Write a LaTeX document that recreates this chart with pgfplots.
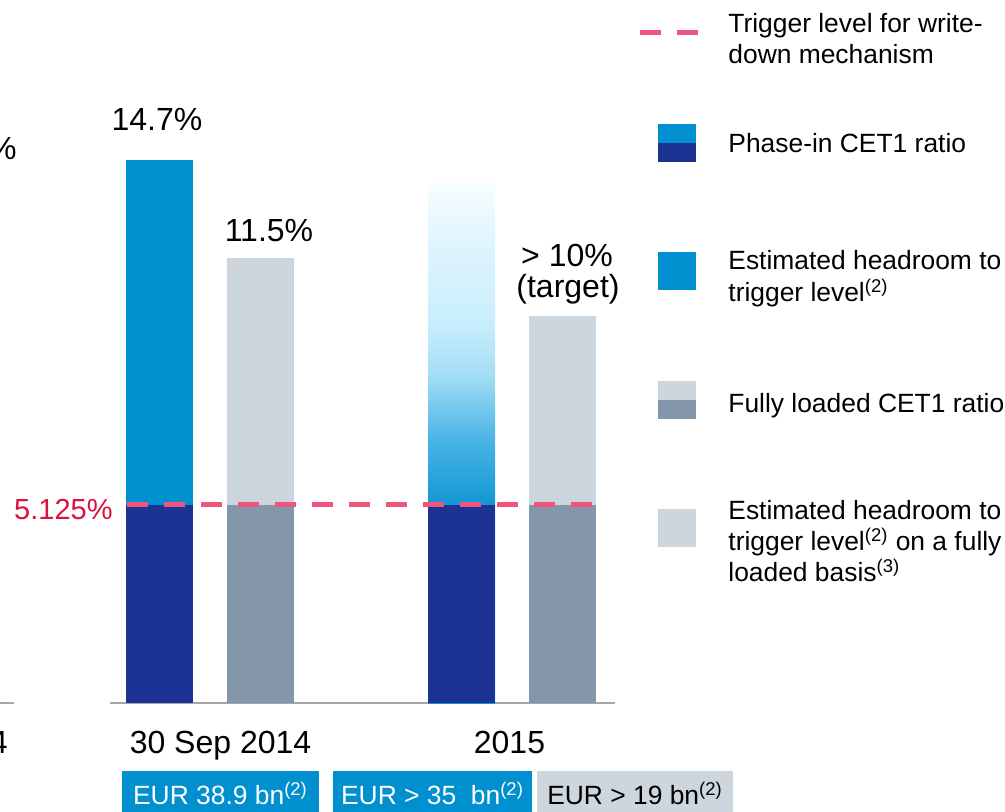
\documentclass[border=0pt]{standalone}
\usepackage{fontspec}
\setmainfont{Liberation Sans}
\usepackage{pgfplots}
\pgfplotsset{compat=1.18}
\definecolor{navy}{HTML}{1C3394}
\definecolor{cblue}{HTML}{0090D0}
\definecolor{lgrey}{HTML}{CDD5DD}
\definecolor{dgrey}{HTML}{8396AA}
\definecolor{dashpink}{HTML}{F0557D}
\definecolor{lblred}{HTML}{D9123F}
\definecolor{axgrey}{HTML}{A6A6A6}
\definecolor{ga}{HTML}{1196D4}
\definecolor{gb}{HTML}{4BB5E6}
\definecolor{gc}{HTML}{A5DEF6}
\definecolor{gd}{HTML}{C8EEFC}
\definecolor{ge}{HTML}{E0F5FE}
\definecolor{gf}{HTML}{F8FDFF}
\pgfdeclareverticalshading{bargrad}{100bp}{color(0bp)=(ga); color(44bp)=(ga); color(50.4bp)=(gb); color(56.7bp)=(gc); color(61.5bp)=(gd); color(69.5bp)=(ge); color(75bp)=(gf); color(100bp)=(gf)}
\newcommand\fbig{\fontsize{16}{19}\selectfont}
\newcommand\fmid{\fontsize{14.5}{17}\selectfont}
\newcommand\fleg{\fontsize{13.2}{15.6}\selectfont}
\newcommand\feur{\fontsize{13.2}{15.6}\selectfont}
\begin{document}
\begin{tikzpicture}[x=0.5pt,y=-0.5pt]
\useasboundingbox (0,0) rectangle (1005,812);
\begin{axis}[at={(55pt,-351.5pt)}, anchor=south west,
  scale only axis, width=252.5pt, height=301.5pt,
  xmin=110, xmax=615, ymin=0, ymax=15.60,
  axis y line=none, axis x line*=bottom,
  xtick=\empty, ytick=\empty,
  x axis line style={axgrey, line width=1pt},
  clip=false]
\addplot[ybar, bar width=33.5pt, bar shift=0pt, fill=cblue, draw=none] coordinates {(159.5,14.05)};
\addplot[ybar, bar width=33.5pt, bar shift=0pt, fill=navy, draw=none] coordinates {(159.5,5.125)};
\addplot[ybar, bar width=33.5pt, bar shift=0pt, fill=lgrey, draw=none] coordinates {(260.5,11.5)};
\addplot[ybar, bar width=33.5pt, bar shift=0pt, fill=dgrey, draw=none] coordinates {(260.5,5.125)};
\addplot[ybar, bar width=33.5pt, bar shift=0pt, shading=bargrad, draw=none] coordinates {(461.5,13.45)};
\addplot[ybar, bar width=33.5pt, bar shift=0pt, fill=navy, draw=none] coordinates {(461.5,5.125)};
\addplot[ybar, bar width=33.5pt, bar shift=0pt, fill=lgrey, draw=none] coordinates {(562.5,10)};
\addplot[ybar, bar width=33.5pt, bar shift=0pt, fill=dgrey, draw=none] coordinates {(562.5,5.125)};
\addplot[dashpink, line width=2.5pt, dash pattern=on 10.5pt off 8pt, mark=none] coordinates {(127,5.125) (596,5.125)};
\end{axis}
% value labels
\node[anchor=base, inner sep=0, font=\fbig] at (157,131) {14.7\%};
\node[anchor=base, inner sep=0, font=\fbig] at (269,242) {11.5\%};
\node[anchor=base, inner sep=0, font=\fbig] at (567,267) {> 10\%};
\node[anchor=base, inner sep=0, font=\fbig] at (568,298) {(target)};
\node[anchor=base east, inner sep=0, font=\fmid, text=lblred] at (113,519) {5.125\%};
% category labels
\node[anchor=base, inner sep=0, font=\fbig] at (220.5,753) {30 Sep 2014};
\node[anchor=base, inner sep=0, font=\fbig] at (509.5,753) {2015};
% EUR boxes
\fill[cblue] (122,771) rectangle (319,830);
\fill[cblue] (333,771) rectangle (532,830);
\fill[lgrey] (537,771) rectangle (733,830);
\node[anchor=base, inner sep=0, font=\feur, text=white] at (220.5,804) {EUR 38.9 bn\textsuperscript{(2)}};
\node[anchor=base, inner sep=0, font=\feur, text=white] at (432.5,804) {EUR > 35~~bn\textsuperscript{(2)}};
\node[anchor=base, inner sep=0, font=\feur] at (635,804) {EUR > 19 bn\textsuperscript{(2)}};
% fragments of neighbouring chart
\node[anchor=base east, inner sep=0, font=\fbig] at (17,160) {13.0\%};
\node[anchor=base east, inner sep=0, font=\fbig] at (8,753) {2014};
\draw[axgrey, line width=1pt] (-5,703) -- (14,703);
% legend
\draw[dashpink, line width=2.5pt] (640,33) -- (661,33);
\draw[dashpink, line width=2.5pt] (677,33) -- (698,33);
\fill[cblue] (658,124) rectangle (696,143);
\fill[navy] (658,143) rectangle (696,162);
\fill[cblue] (658,252) rectangle (696,290);
\fill[lgrey] (658,381) rectangle (696,400);
\fill[dgrey] (658,400) rectangle (696,419);
\fill[lgrey] (658,509) rectangle (696,547);
\begin{scope}[every node/.style={anchor=base west, inner sep=0, font=\fleg}]
\node at (728,33) {Trigger level for write-};
\node at (728,64) {down mechanism};
\node at (728,153) {Phase-in CET1 ratio};
\node at (728,270) {Estimated headroom to};
\node at (728,301) {trigger level\textsuperscript{(2)}};
\node at (728,412) {Fully loaded CET1 ratio};
\node at (728,519) {Estimated headroom to};
\node at (728,550) {trigger level\textsuperscript{(2)} on a fully};
\node at (728,581) {loaded basis\textsuperscript{(3)}};
\end{scope}
\end{tikzpicture}
\end{document}
